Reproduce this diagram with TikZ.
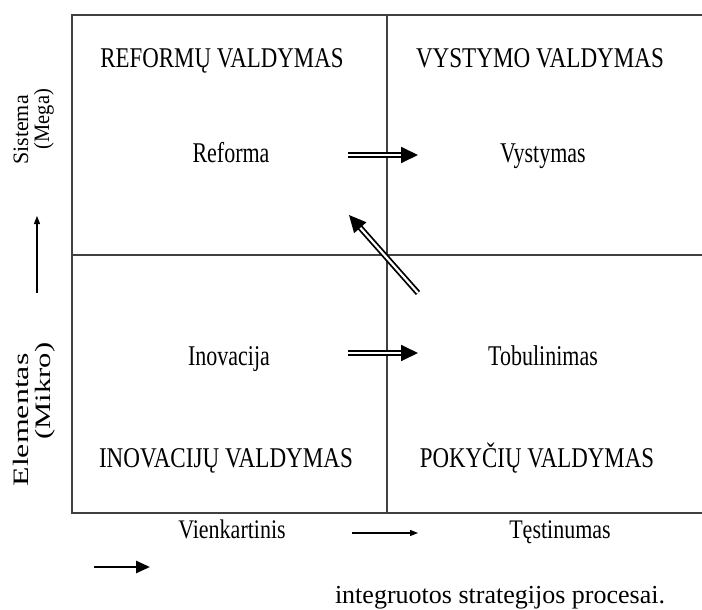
\documentclass[tikz,border=0pt]{standalone}
\usepackage{graphicx}
\usepackage{fontspec}
\setmainfont{Liberation Serif}
\usetikzlibrary{arrows.meta}

% text stretched along (#1) and across (#2) its line
\newcommand{\strt}[3]{\scalebox{#1}[#2]{#3}}

\begin{document}
\begin{tikzpicture}[x=1pt, y=-1pt,
  lbl/.style={font=\fontsize{22}{26}\selectfont, inner sep=0pt, anchor=base},
  side/.style={font=\fontsize{22}{26}\selectfont, rotate=90, inner sep=0pt, anchor=base},
  grid/.style={draw=black!75, line width=1.4pt},
  dbl/.style={double, double distance=2.2pt, line width=1.8pt, -{Triangle[length=17pt, width=16pt]}},
  axis/.style={line width=1.1pt, -{Triangle[length=8pt, width=6pt]}},
  ]
  \useasboundingbox (0,0) rectangle (702,610);

  % Frame of the four fields
  \coordinate (nw) at (72,15);
  \coordinate (se) at (720,513);
  \draw[grid] (nw) rectangle (se);
  \draw[grid] (387,15) -- (387,513);
  \draw[grid] (72,255) -- (720,255);

  % Field titles
  \node[lbl] (refv) at (222,67) {\strt{1.04}{1.3}{REFORMŲ VALDYMAS}};
  \node[lbl] (vysv) at (540,67) {\strt{1.05}{1.3}{VYSTYMO VALDYMAS}};
  \node[lbl] (inov) at (226,467) {\strt{1.05}{1.3}{INOVACIJŲ VALDYMAS}};
  \node[lbl] (pokv) at (537,467) {\strt{1.04}{1.3}{POKYČIŲ VALDYMAS}};

  % Field contents
  \node[lbl] (ref) at (231,162) {\strt{1}{1.3}{Reforma}};
  \node[lbl] (vys) at (543,162) {\strt{1}{1.3}{Vystymas}};
  \node[lbl] (ino) at (229,365) {\strt{1}{1.3}{Inovacija}};
  \node[lbl] (tob) at (543,365) {\strt{1}{1.3}{Tobulinimas}};

  % Double arrows
  \coordinate (a1) at (348,155);
  \coordinate (a2) at (418,155);
  \coordinate (b1) at (348,353);
  \coordinate (b2) at (418,353);
  \coordinate (c1) at (418,293);
  \coordinate (c2) at (349,215);
  \draw[dbl] (a1) -- (a2);
  \draw[dbl] (b1) -- (b2);
  \draw[dbl] (c1) -- (c2);

  % Vertical axis
  \node[side] (sis) at (28,130) {\strt{1.0}{1}{Sistema}};
  \node[side] (mega) at (49,119) {\strt{0.93}{1}{(Mega)}};
  \node[side] (elem) at (28,420) {\strt{1.45}{1}{Elementas}};
  \node[side] (mik) at (50,391) {\strt{1.39}{1}{(Mikro)}};
  \coordinate (v1) at (37,293);
  \coordinate (v2) at (37,216);
  \draw[axis] (v1) -- (v2);

  % Horizontal axis
  \node[lbl] (vien) at (232,538) {\strt{1}{1.22}{Vienkartinis}};
  \node[lbl] (test) at (560,538) {\strt{1}{1.22}{Tęstinumas}};
  \coordinate (h1) at (352,533);
  \coordinate (h2) at (418,533);
  \draw[axis] (h1) -- (h2);

  % Legend
  \coordinate (l1) at (94,567);
  \coordinate (l2) at (150,567);
  \draw[line width=2.6pt, -{Triangle[length=14pt, width=12pt]}] (l1) -- (l2);
  \node[font=\fontsize{26}{30}\selectfont, inner sep=0pt, anchor=base] (leg) at (500,603) {integruotos strategijos procesai.};
\end{tikzpicture}
\end{document}
